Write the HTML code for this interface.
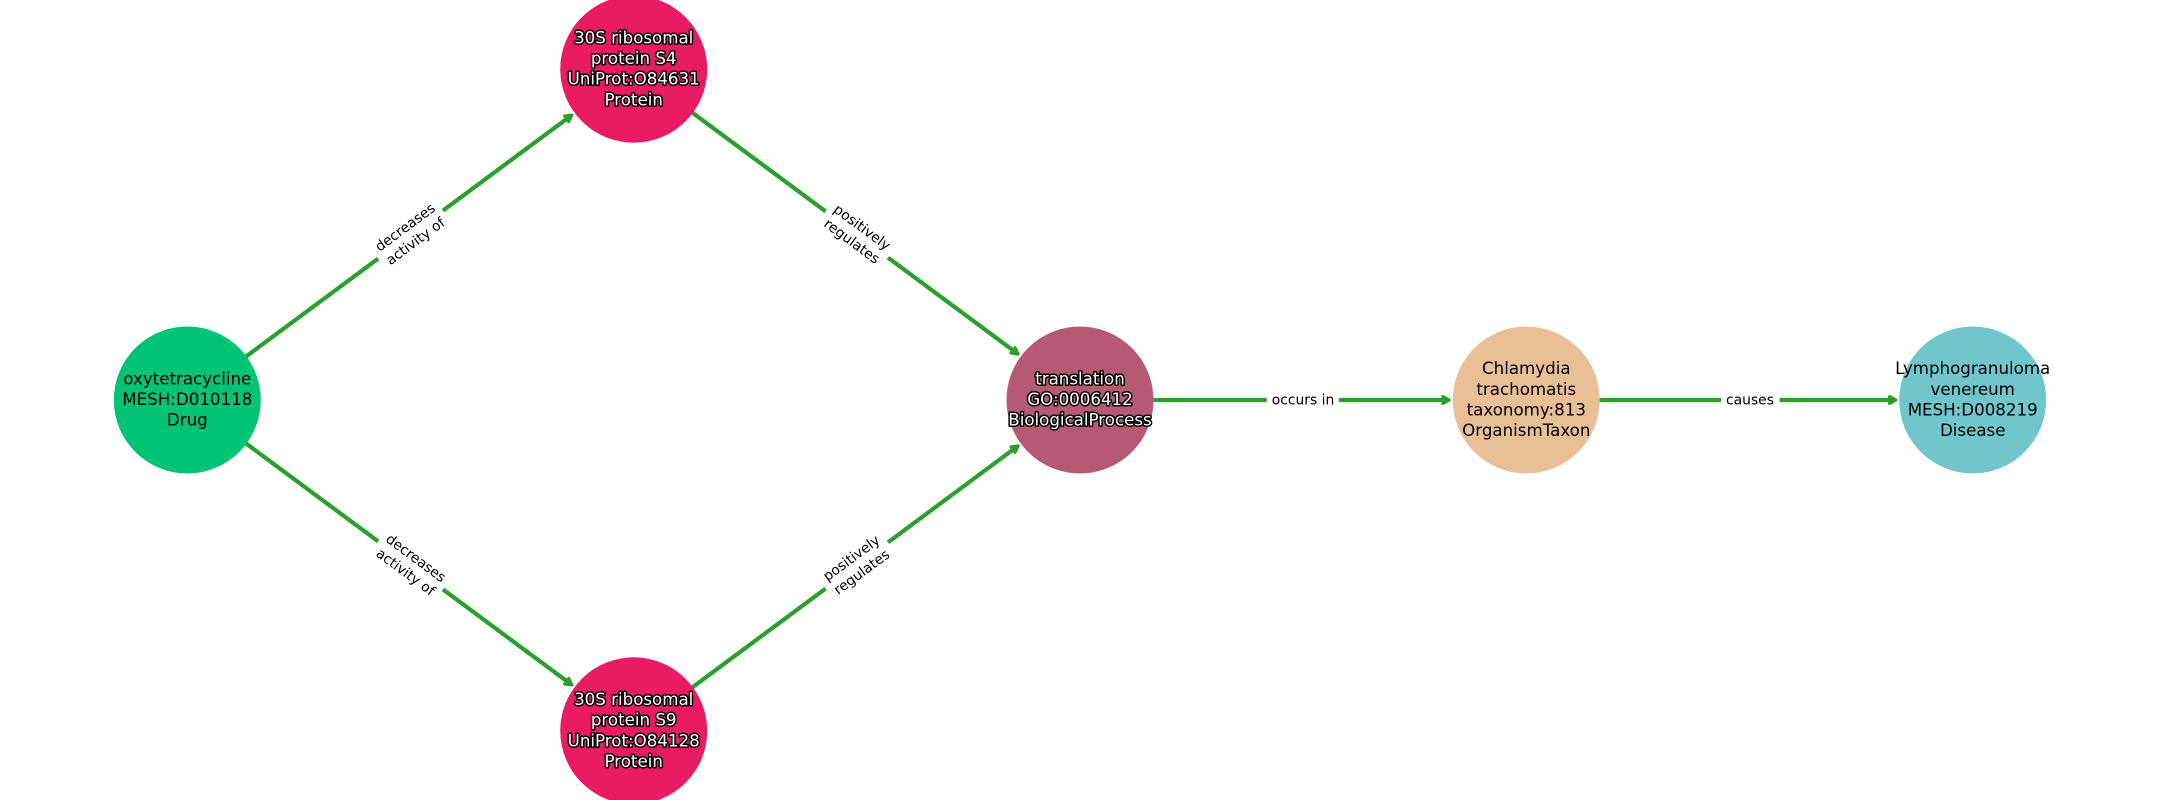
<!DOCTYPE html>
<html>
<head>
<meta charset="utf-8">
<style>
html,body{margin:0;padding:0;background:#fff;width:2160px;height:800px;overflow:hidden}
svg{display:block}
text{font-family:"DejaVu Sans",sans-serif;text-anchor:middle}
.n{font-size:16.67px;fill:#000}
.w{font-size:16.67px;fill:#fff;stroke:#000;stroke-width:3px;paint-order:stroke;stroke-linejoin:round}
.e{font-size:13.89px;fill:#000}
.l{stroke:#2ca02c;stroke-width:4.2;fill:none}
.h{fill:#2ca02c;stroke:#2ca02c;stroke-width:3;stroke-linejoin:round}
</style>
</head>
<body>
<svg width="2160" height="800" viewBox="0 0 2160 800" xmlns="http://www.w3.org/2000/svg">
<rect width="2160" height="800" fill="#fff"/>

<!-- edges -->
<line class="l" x1="187.3" y1="400" x2="566" y2="119.4"/>
<line class="l" x1="187.3" y1="400" x2="566" y2="680.6"/>
<line class="l" x1="633.7" y1="69.2" x2="1012.3" y2="349.8"/>
<line class="l" x1="633.7" y1="730.8" x2="1012.3" y2="450.2"/>
<line class="l" x1="1080" y1="400" x2="1442" y2="400"/>
<line class="l" x1="1526.3" y1="400" x2="1889" y2="400"/>

<!-- arrowheads -->
<g transform="translate(573.5 113.8) rotate(-36.5)"><polygon class="h" points="-2,0 -8.5,-3.5 -8.5,3.5"/></g>
<g transform="translate(573.5 686.2) rotate(36.5)"><polygon class="h" points="-2,0 -8.5,-3.5 -8.5,3.5"/></g>
<g transform="translate(1019.8 355.4) rotate(36.5)"><polygon class="h" points="-2,0 -8.5,-3.5 -8.5,3.5"/></g>
<g transform="translate(1019.8 444.6) rotate(-36.5)"><polygon class="h" points="-2,0 -8.5,-3.5 -8.5,3.5"/></g>
<g transform="translate(1451.3 400)"><polygon class="h" points="-2,0 -8.5,-3.5 -8.5,3.5"/></g>
<g transform="translate(1898 400)"><polygon class="h" points="-2,0 -8.5,-3.5 -8.5,3.5"/></g>

<!-- edge labels -->
<g transform="translate(410.5 234.6) rotate(-36.5)">
  <rect x="-40.3" y="-20" width="80.6" height="40" fill="#fff"/>
  <text class="e" x="0" y="-4.4">decreases</text>
  <text class="e" x="0" y="12.9">activity of</text>
</g>
<g transform="translate(410.5 565.4) rotate(36.5)">
  <rect x="-40.3" y="-20" width="80.6" height="40" fill="#fff"/>
  <text class="e" x="0" y="-4.4">decreases</text>
  <text class="e" x="0" y="12.9">activity of</text>
</g>
<g transform="translate(856.8 234.6) rotate(36.5)">
  <rect x="-38.8" y="-20" width="77.6" height="40" fill="#fff"/>
  <text class="e" x="0" y="-4.4">positively</text>
  <text class="e" x="0" y="12.9">regulates</text>
</g>
<g transform="translate(856.8 565.4) rotate(-36.5)">
  <rect x="-38.8" y="-20" width="77.6" height="40" fill="#fff"/>
  <text class="e" x="0" y="-4.4">positively</text>
  <text class="e" x="0" y="12.9">regulates</text>
</g>
<rect x="1266.7" y="388" width="72" height="24" fill="#fff"/>
<text class="e" x="1303" y="404.4">occurs in</text>
<rect x="1721" y="388" width="58.6" height="24" fill="#fff"/>
<text class="e" x="1750" y="404.4">causes</text>

<!-- nodes -->
<circle cx="187.3" cy="400" r="73.5" fill="#00c374"/>
<circle cx="633.7" cy="69.2" r="73.5" fill="#e91b63"/>
<circle cx="633.7" cy="730.8" r="73.5" fill="#e91b63"/>
<circle cx="1080" cy="400" r="73.5" fill="#b55a72"/>
<circle cx="1526.3" cy="400" r="73.5" fill="#e9bf98"/>
<circle cx="1972.7" cy="400" r="73.5" fill="#70c6cb"/>

<!-- node labels -->
<text class="n" x="187.3" y="384.4">oxytetracycline</text>
<text class="n" x="187.3" y="405">MESH:D010118</text>
<text class="n" x="187.3" y="425.7">Drug</text>

<text class="w" x="633.7" y="43.3">30S ribosomal</text>
<text class="w" x="633.7" y="64">protein S4</text>
<text class="w" x="633.7" y="84.7">UniProt:O84631</text>
<text class="w" x="633.7" y="105.3">Protein</text>

<text class="w" x="633.7" y="704.9">30S ribosomal</text>
<text class="w" x="633.7" y="725.6">protein S9</text>
<text class="w" x="633.7" y="746.3">UniProt:O84128</text>
<text class="w" x="633.7" y="766.9">Protein</text>

<text class="w" x="1080" y="384.4">translation</text>
<text class="w" x="1080" y="405">GO:0006412</text>
<text class="w" x="1080" y="425.7">BiologicalProcess</text>

<text class="n" x="1526.3" y="374.1">Chlamydia</text>
<text class="n" x="1526.3" y="394.8">trachomatis</text>
<text class="n" x="1526.3" y="415.5">taxonomy:813</text>
<text class="n" x="1526.3" y="436.1">OrganismTaxon</text>

<text class="n" x="1972.7" y="374.1">Lymphogranuloma</text>
<text class="n" x="1972.7" y="394.8">venereum</text>
<text class="n" x="1972.7" y="415.5">MESH:D008219</text>
<text class="n" x="1972.7" y="436.1">Disease</text>
</svg>
</body>
</html>
